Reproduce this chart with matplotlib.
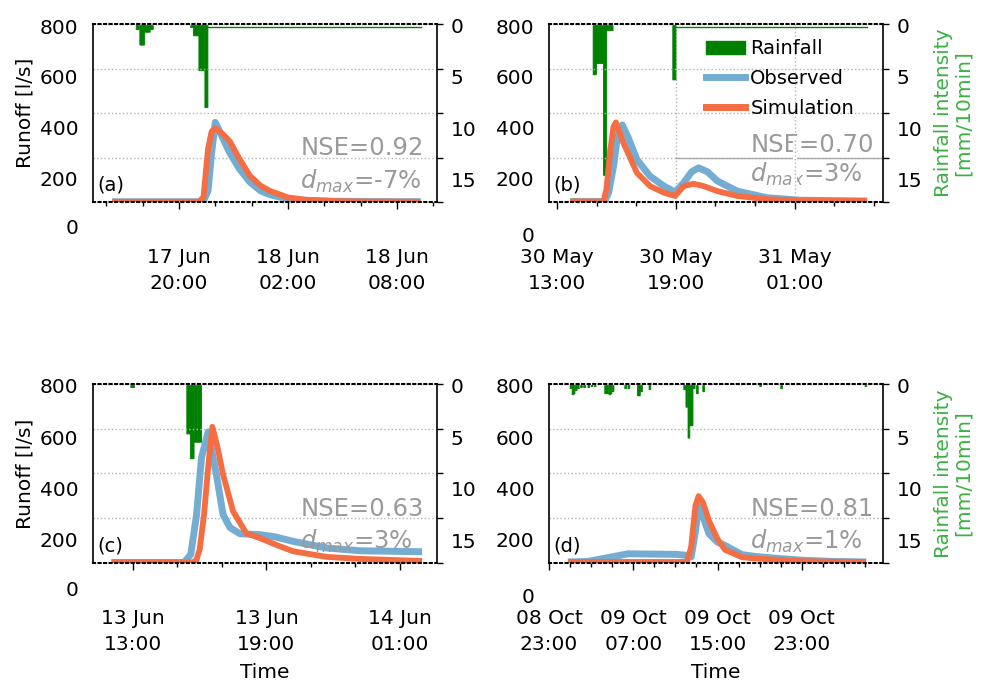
import matplotlib
matplotlib.use('Agg')
import matplotlib.pyplot as plt
from matplotlib.patches import Patch
from matplotlib.lines import Line2D
import numpy as np

# ---- data (time in hours from midnight of the first day shown) ----
# (a) 17-18 Jun
a_obs_t = [16.33, 21.1, 21.35, 21.6, 21.8, 22.0, 22.4, 22.8, 23.3, 23.9, 24.5, 25.0, 26.0, 27.0, 28.5, 30.0, 33.3]
a_obs = [107, 107, 110, 150, 300, 420, 360, 300, 240, 185, 150, 135, 118, 112, 109, 108, 107]
a_sim_t = [16.33, 21.1, 21.35, 21.6, 21.8, 22.0, 22.4, 22.8, 23.3, 23.9, 24.5, 25.0, 26.0, 27.0, 28.5, 30.0, 33.3]
a_sim = [107, 107, 125, 314, 384, 397, 375, 345, 280, 210, 170, 150, 124, 115, 110, 108, 107]
a_rain_t = [17.65, 17.85, 17.95, 18.1, 18.25, 18.42, 20.65, 20.8, 20.95, 21.1, 21.25, 21.43]
a_rain = [0.4, 1.9, 1.9, 0.65, 0.65, 0.4, 0.2, 1.0, 1.0, 4.4, 4.4, 8.0]
a_tail = [21.6, 33.3]
a_ticks = [20, 26, 32]
a_labels = ['17 Jun\n20:00', '18 Jun\n02:00', '18 Jun\n08:00']

# (b) 30-31 May
b_obs_t = [13.67, 15.4, 15.6, 15.86, 16.05, 16.3, 16.6, 17.04, 17.7, 18.4, 18.97, 19.4, 19.8, 20.15, 20.6, 21.1, 22.1, 23.6, 25.3, 28.66]
b_obs = [108, 108, 140, 247, 360, 410, 360, 273, 208, 169, 145, 182, 225, 241, 225, 189, 149, 123, 113, 110]
b_sim_t = [13.67, 15.35, 15.5, 15.7, 15.86, 15.98, 16.36, 17.04, 17.7, 18.4, 18.97, 19.4, 19.9, 20.4, 21.1, 22.1, 23.6, 25.3, 28.66]
b_sim = [108, 108, 156, 312, 404, 420, 339, 221, 169, 143, 130, 169, 178, 169, 149, 130, 117, 112, 110]
b_rain_t = [14.83, 15.0, 15.17, 15.35, 15.5, 15.67, 18.85]
b_rain = [4.8, 3.7, 3.7, 14.6, 0.5, 0.5, 5.3]
b_tail = [19.0, 28.66]
b_ticks = [13, 19, 25]
b_labels = ['30 May\n13:00', '30 May\n19:00', '31 May\n01:00']

# (c) 13-14 Jun
c_obs_t = [12.03, 15.3, 15.6, 15.86, 16.08, 16.38, 16.75, 17.05, 17.36, 17.8, 18.7, 19.3, 20.2, 21.7, 23.2, 26.0]
c_obs = [108, 108, 140, 296, 519, 620, 453, 296, 245, 221, 217, 210, 191, 165, 154, 150]
c_sim_t = [12.03, 15.7, 15.86, 16.0, 16.2, 16.4, 16.57, 16.8, 17.05, 17.5, 18.1, 18.7, 19.5, 20.2, 21.7, 23.2, 26.0]
c_sim = [108, 108, 119, 160, 300, 500, 640, 560, 453, 309, 222, 204, 175, 152, 130, 122, 114]
c_rain_t = [12.9, 15.42, 15.58, 15.75, 15.92]
c_rain = [0.2, 4.7, 7.1, 5.5, 5.5]
c_tail = None
c_ticks = [13, 19, 25]
c_labels = ['13 Jun\n13:00', '13 Jun\n19:00', '14 Jun\n01:00']

# (d) 08-09 Oct
d_obs_t = [24.8, 26.7, 28.6, 30.5, 35.0, 35.9, 36.5, 36.9, 37.2, 37.6, 38.2, 39.0, 39.7, 41.3, 42.5, 44.4, 47.0, 50.0, 53.1]
d_obs = [110, 112, 127, 142, 140, 137, 130, 230, 328, 290, 220, 188, 175, 139, 132, 125, 117, 112, 110]
d_sim_t = [24.8, 26.7, 28.6, 30.5, 35.0, 36.1, 36.5, 36.9, 37.2, 37.6, 38.2, 39.0, 39.7, 41.3, 42.5, 44.4, 47.0, 50.0, 53.1]
d_sim = [110, 110, 110, 110, 110, 110, 170, 330, 368, 345, 270, 200, 158, 129, 124, 119, 113, 111, 110]
d_rain_t = [25.0, 25.2, 25.3, 25.5, 25.7, 26.0, 26.3, 26.7, 27.0, 27.3, 28.3, 28.5, 28.7, 28.8, 29.0,
            30.2, 30.5, 31.4, 31.5, 31.7, 32.5, 35.8, 36.0, 36.2, 36.35, 36.5, 36.7, 37.0, 37.6, 43.0, 45.0, 53.0]
d_rain = [0.3, 0.9, 0.8, 0.5, 0.3, 0.2, 0.2, 0.2, 0.1, 0.1, 0.8, 0.8, 0.9, 0.8, 0.6,
          0.3, 0.3, 1.0, 1.0, 0.6, 0.4, 0.4, 2.1, 5.1, 3.9, 3.9, 0.3, 0.8, 0.6, 0.1, 0.3, 0.1]
d_tail = None
d_ticks = [23, 31, 39, 47]
d_labels = ['08 Oct\n23:00', '09 Oct\n07:00', '09 Oct\n15:00', '09 Oct\n23:00']

nse = ['0.92', '0.70', '0.63', '0.81']
dmax = ['-7%', '3%', '3%', '1%']
tags = ['(a)', '(b)', '(c)', '(d)']
tail_level = 0.15

blue = '#74add1'
orange = '#f46d43'
rain_green = 'green'
grey_txt = '#9a9a9a'
grid_c = '#b4b4b4'

panels = [
    dict(rect=[0.0939, 0.7055, 0.3475, 0.2595], xlim=(15.27, 34.2), minor=np.arange(16, 35, 2),
         obs=(a_obs_t, a_obs), sim=(a_sim_t, a_sim), rain=(a_rain_t, a_rain), tail=a_tail,
         ticks=a_ticks, labels=a_labels, txt_y=(0.264, 0.077)),
    dict(rect=[0.5545, 0.7055, 0.3374, 0.2595], xlim=(12.6, 29.46), minor=np.arange(13, 30, 2),
         obs=(b_obs_t, b_obs), sim=(b_sim_t, b_sim), rain=(b_rain_t, b_rain), tail=b_tail,
         ticks=b_ticks, labels=b_labels, txt_y=(0.279, 0.116)),
    dict(rect=[0.0939, 0.1793, 0.3475, 0.2610], xlim=(11.2, 26.67), minor=np.arange(13, 26, 2),
         obs=(c_obs_t, c_obs), sim=(c_sim_t, c_sim), rain=(c_rain_t, c_rain), tail=c_tail,
         ticks=c_ticks, labels=c_labels, txt_y=(0.263, 0.078)),
    dict(rect=[0.5545, 0.1793, 0.3374, 0.2610], xlim=(23.0, 54.7), minor=np.arange(23, 55, 2),
         obs=(d_obs_t, d_obs), sim=(d_sim_t, d_sim), rain=(d_rain_t, d_rain), tail=d_tail,
         ticks=d_ticks, labels=d_labels, txt_y=(0.263, 0.078)),
]

plt.rcParams['font.family'] = ['DejaVu Sans']
fig = plt.figure(figsize=(9.9, 6.86), dpi=100)

rain_lim = (17.2, -0.15)
grid_pos = np.linspace(rain_lim[0], rain_lim[1], 5)
tick_fs = 14.5

for i, p in enumerate(panels):
    ax = fig.add_axes(p['rect'])
    ax2 = ax.twinx()
    ax.set_zorder(ax2.get_zorder() + 1)
    ax.patch.set_visible(False)

    # rainfall (inverted right axis)
    ax2.bar(p['rain'][0], p['rain'][1], width=1 / 6, align='edge', color=rain_green,
            edgecolor=rain_green, linewidth=0.6, snap=False)
    if p['tail'] is not None:
        ax2.plot(p['tail'], [tail_level, tail_level], color=rain_green, lw=1)
    ax2.set_ylim(*rain_lim)
    ax2.set_yticks([0, 5, 10, 15])
    ax2.set_yticks(grid_pos, minor=True)
    ax2.tick_params(axis='y', which='major', length=0, pad=10, labelsize=tick_fs)
    ax2.tick_params(axis='y', which='minor', length=4, width=1, direction='out')
    ax2.grid(axis='y', which='minor', color=grid_c, ls=':', lw=1)
    for s in ['top', 'bottom', 'left']:
        ax2.spines[s].set_visible(False)
    ax2.spines['right'].set_linewidth(1.2)

    # runoff
    ax.plot(*p['obs'], color=blue, lw=5, solid_joinstyle='round', solid_capstyle='butt')
    ax.plot(*p['sim'], color=orange, lw=4.2, solid_joinstyle='round', solid_capstyle='butt')
    ax.set_ylim(106, 808)
    ax.set_yticks([200, 400, 600, 800])
    ax.tick_params(axis='y', length=0, pad=10.5, labelsize=tick_fs)
    ax.annotate('0', xy=(0, 0), xycoords=('axes fraction', 'data'),
                xytext=(-10.5, 0 if i % 2 == 0 else -5.5), textcoords='offset points',
                ha='right', va='center', fontsize=tick_fs, annotation_clip=False)

    ax.set_xlim(*p['xlim'])
    ax.set_xticks(p['ticks'], p['labels'])
    ax.set_xticks(p['minor'], minor=True)
    ax.tick_params(axis='x', which='major', length=5, width=1, pad=28, labelsize=tick_fs)
    ax.tick_params(axis='x', which='minor', length=3, width=1)
    for lbl in ax.get_xticklabels():
        lbl.set_linespacing(1.5)

    ax.spines['right'].set_visible(False)
    ax.spines['top'].set_linestyle(':')
    ax.spines['bottom'].set_linestyle(':')
    ax.spines['top'].set_linewidth(1.5)
    ax.spines['bottom'].set_linewidth(1.5)
    ax.spines['left'].set_linewidth(1.2)

    ax.text(0.012, 0.095, tags[i], transform=ax.transAxes, fontsize=14, va='center')
    ax.text(0.603, p['txt_y'][0], 'NSE=' + nse[i], transform=ax.transAxes,
            color=grey_txt, fontsize=17.5, va='baseline', zorder=3)
    ax.text(0.603, p['txt_y'][1], r'$d_{max}$=' + dmax[i], transform=ax.transAxes,
            color=grey_txt, fontsize=17.5, va='baseline', zorder=3)

    if i % 2 == 0:
        ax.set_ylabel('Runoff [l/s]', fontsize=14.5, labelpad=4)
    else:
        ax2.set_ylabel('Rainfall intensity\n[mm/10min]', color='#3cb043', fontsize=14.5,
                       labelpad=8, linespacing=1.1)
    if i >= 2:
        ax.set_xlabel('Time', fontsize=14.5, labelpad=6)

    if i == 1:
        # vertical grid lines and legend only in (b)
        for t in p['ticks'][1:]:
            ax.axvline(t, color=grid_c, ls=':', lw=1, zorder=1.5)
        ax.axvline(p['ticks'][2], ymin=0.05, ymax=0.36, color='white', lw=3, zorder=4)
        ax.axvline(p['ticks'][2], ymin=0.05, ymax=0.36, color=grid_c, ls=':', lw=1, zorder=4.5)
        x0 = (p['ticks'][1] - p['xlim'][0]) / (p['xlim'][1] - p['xlim'][0])
        ax2.axhline(grid_pos[1], xmin=x0, xmax=1, color='#aaaaaa', lw=1)
        handles = [Patch(color=rain_green), Line2D([], [], color=blue, lw=5),
                   Line2D([], [], color=orange, lw=5)]
        ax.legend(handles, ['Rainfall', 'Observed', 'Simulation'], loc='upper left',
                  bbox_to_anchor=(0.469, 0.915), frameon=False, fontsize=14,
                  handlelength=2.0, handletextpad=0.3, labelspacing=0.55,
                  borderpad=0, borderaxespad=0)

fig.savefig('out.png', dpi=100)
